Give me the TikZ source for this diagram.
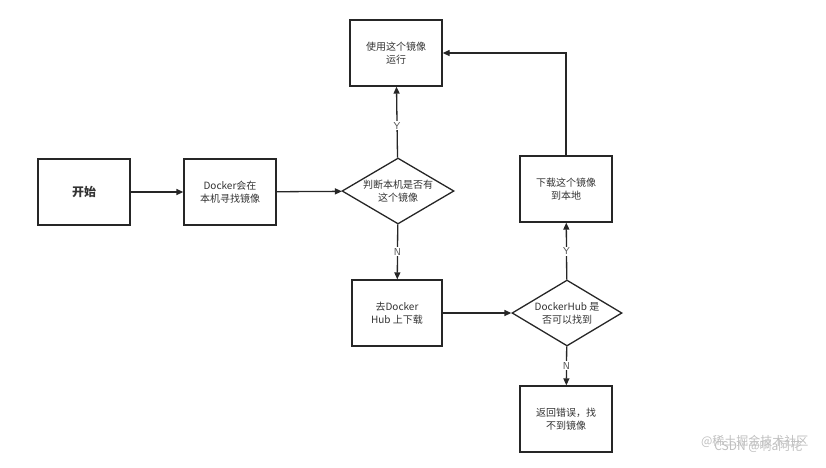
\documentclass[tikz,border=0pt]{standalone}
\usepackage{fontspec}
\newfontfamily\cjk{Noto Sans CJK SC}
\usetikzlibrary{shapes.geometric,arrows.meta}
\begin{document}
\begin{tikzpicture}[x=1pt,y=-1pt,
  box/.style={draw=black!85,line width=1.3pt,minimum width=92pt,minimum height=66pt,align=center,font=\cjk\fontsize{10}{13}\selectfont,text=black!80},
  dia/.style={draw=black!85,line width=1.3pt,diamond,minimum width=112pt,minimum height=66pt,inner sep=0pt,aspect=1.7,align=center,font=\cjk\fontsize{10}{13}\selectfont,text=black!80},
  arr/.style={draw=black!85,line width=1.3pt,-{Triangle[length=7pt,width=6pt]}},
  lab/.style={fill=white,font=\sffamily\fontsize{10}{12}\selectfont,text=black!70,inner sep=1pt}]
\useasboundingbox (0,0) rectangle (826,467);
\node[box,line width=1.6pt,font=\cjk\bfseries\fontsize{12}{14}\selectfont] (start) at (84,192) {开始};
\node[box] (find) at (230,192) {Docker会在\\本机寻找镜像};
\node[dia] (d1) at (398,191) {判断本机是否有\\这个镜像};
\node[box] (use) at (396,53) {使用这个镜像\\运行};
\node[box,minimum width=90pt] (hub) at (397,313) {去Docker\\Hub 上下载};
\node[dia,minimum width=110pt] (d2) at (567,313) {DockerHub 是\\否可以找到};
\node[box] (dl) at (566,189) {下载这个镜像\\到本地};
\node[box] (err) at (566,419) {返回错误，找\\不到镜像};
\draw[arr] (start) -- (find);
\draw[arr] (find) -- (d1);
\draw[arr] (d1) -- node[lab,pos=0.45]{Y} (use);
\draw[arr] (d1) -- node[lab,pos=0.5]{N} (hub);
\draw[arr] (hub) -- (d2);
\draw[arr] (d2) -- node[lab,pos=0.5]{Y} (dl);
\draw[arr] (d2) -- node[lab,pos=0.5]{N} (err);
\draw[arr] (dl.north) |- (use.east);
\node[font=\cjk\fontsize{12}{14}\selectfont,text=black!25,anchor=east] (wm1) at (812,441) {@稀土掘金技术社区};
\node[font=\cjk\fontsize{12}{14}\selectfont,text=black!25,anchor=east] (wm2) at (806,446) {CSDN @啊a阿花};
\end{tikzpicture}
\end{document}
